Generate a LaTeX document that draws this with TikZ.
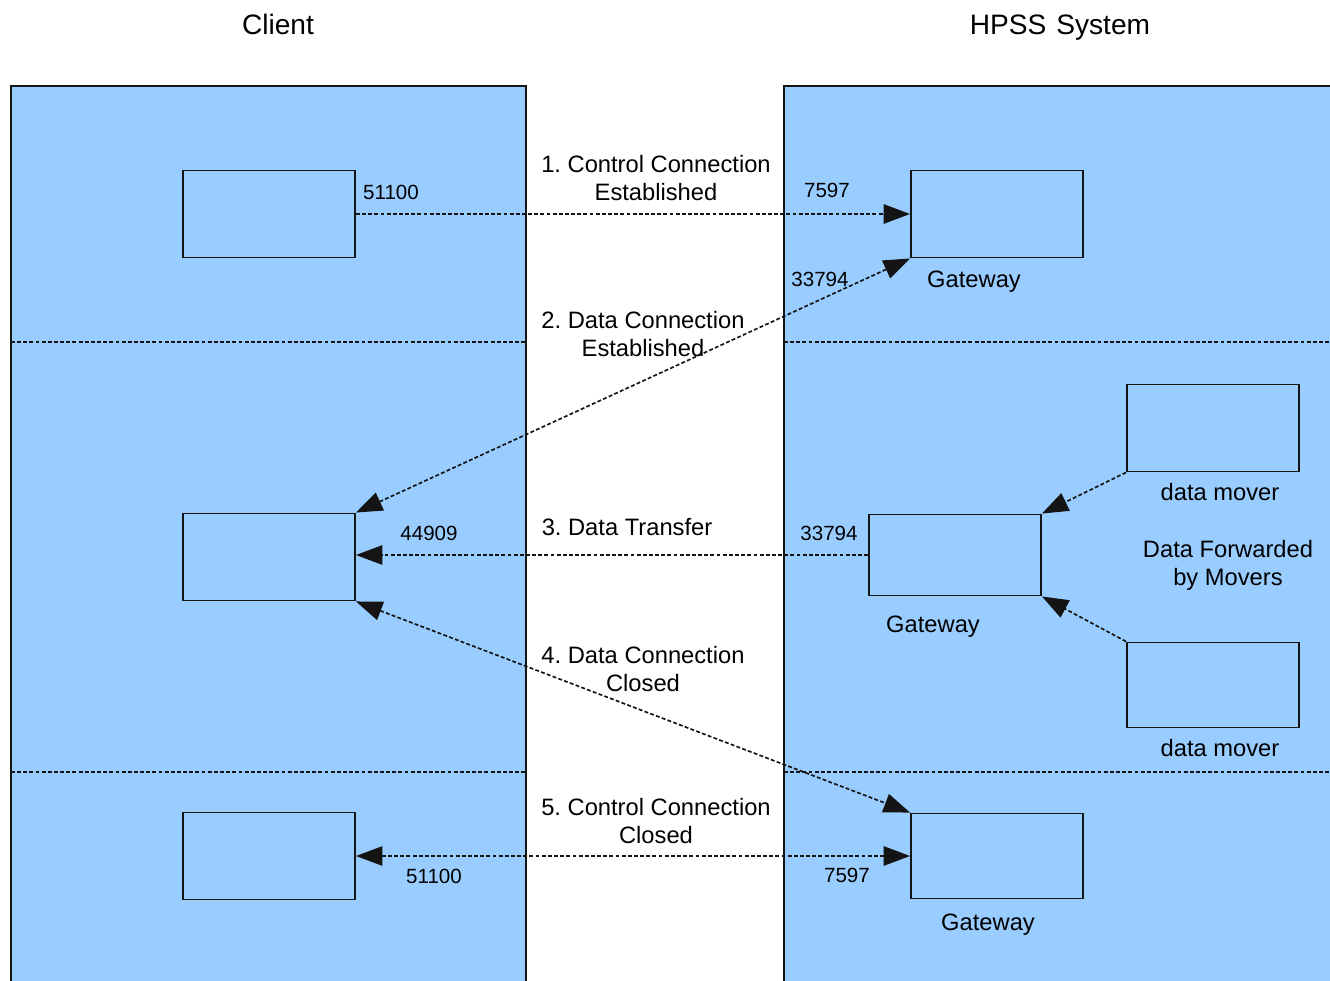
\documentclass[tikz,border=0pt]{standalone}
\usepackage{fontspec}
\setmainfont{Liberation Sans}
\usetikzlibrary{arrows.meta, positioning}
\frenchspacing

\definecolor{panelblue}{HTML}{99CCFF}
\definecolor{linegray}{HTML}{141414}

\begin{document}
\begin{tikzpicture}[
        x=0.02cm, y=-0.02cm,
        panel/.style={fill=panelblue, draw=linegray, line width=0.8pt},
        host/.style={draw=linegray, line width=1.1pt, minimum width=3.44cm,
            minimum height=1.74cm, inner sep=0pt},
        title/.style={font=\fontsize{16}{19}\selectfont, text height=1.6ex, text depth=0pt},
        txt/.style={font=\fontsize{13.5}{16}\selectfont, align=center, inner sep=1pt},
        port/.style={font=\fontsize{11.7}{14}\selectfont, inner sep=1pt},
        link/.style={draw=linegray, line width=0.95pt, dash pattern=on 2.2pt off 1.3pt},
        tip/.style={-{Triangle[length=15pt,width=11pt]}},
        tips/.style={{Triangle[length=15pt,width=11pt]}-{Triangle[length=15pt,width=11pt]}}
    ]
    \useasboundingbox (0,0) rectangle (1330,981);

    % Panels
    \draw[panel] (11,86) rectangle (526,1000);
    \draw[panel] (784,86) rectangle (1345,1000);
    \node[title] (client) at (278,27) {Client};
    \node[title] (hpss) at (1060,27) {HPSS\hspace{0.35em}System};

    % Phase separators
    \foreach \y in {342,772} {
        \draw[link, line width=0.7pt] (11,\y) -- (526,\y);
        \draw[link, line width=0.7pt] (784,\y) -- (1345,\y);
    }

    % Client side hosts
    \node[host] (c1) at (269,214) {};
    \node[host] (c2) at (269,557) {};
    \node[host] (c3) at (269,856) {};

    % HPSS side hosts
    \node[host] (g1) at (997,214) {};
    \node[host, minimum height=1.62cm] (g2) at (955,555) {};
    \node[host, minimum height=1.7cm] (g3) at (997,856) {};
    \node[host] (m1) at (1213,428) {};
    \node[host, minimum height=1.7cm] (m2) at (1213,685) {};

    \node[txt, below=0.2cm of g1.south, xshift=-0.46cm] (g1lab) {Gateway};
    \node[txt, below=0.34cm of g2.south, xshift=-0.44cm] (g2lab) {Gateway};
    \node[txt, below=0.24cm of g3.south, xshift=-0.18cm] (g3lab) {Gateway};
    \node[txt, below=0.18cm of m1.south, xshift=0.14cm] (m1lab) {data mover};
    \node[txt, below=0.18cm of m2.south, xshift=0.14cm] (m2lab) {data mover};
    \node[txt] (fwd) at (1228,565) {Data Forwarded\\by Movers};

    % Steps
    \node[txt] (s1) at (656,178) {1. Control Connection\\Established};
    \node[txt] (s2) at (643,334) {2. Data Connection\\Established};
    \node[txt] (s3) at (627,527) {3. Data Transfer};
    \node[txt] (s4) at (643,669) {4. Data Connection\\Closed};
    \node[txt] (s5) at (656,821) {5. Control Connection\\Closed};

    % Connections
    \draw[link, tip] (c1.east) -- (g1.west);
    \draw[link, tips] (c2.north east) -- (g1.south west);
    \draw[link, tip] (g2.west) -- (c2.east |- g2.west);
    \draw[link, tips] (c2.south east) -- (g3.north west);
    \draw[link, tips] (c3.east) -- (g3.west);
    \draw[link, tip] (m1.south west) -- (g2.north east);
    \draw[link, tip] (m2.north west) -- (g2.south east);

    % Port numbers
    \node[port] (p1) at (391,192) {51100};
    \node[port] (p2) at (827,190) {7597};
    \node[port] (p3) at (820,279) {33794};
    \node[port] (p4) at (429,533) {44909};
    \node[port] (p5) at (829,533) {33794};
    \node[port] (p6) at (434,876) {51100};
    \node[port] (p7) at (847,875) {7597};
\end{tikzpicture}
\end{document}
